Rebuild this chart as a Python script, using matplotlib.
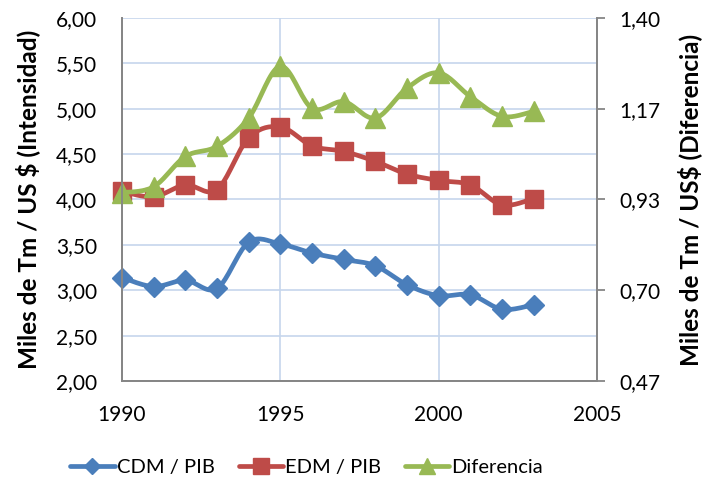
import numpy as np
import matplotlib
matplotlib.use("Agg")
import matplotlib.pyplot as plt
from matplotlib.lines import Line2D

plt.rcParams['font.family'] = ['Lato', 'DejaVu Sans']

years = [1990, 1991, 1992, 1993, 1994, 1995, 1996, 1997, 1998, 1999, 2000, 2001, 2002, 2003]
cdm_pib = [3.14, 3.04, 3.11, 3.02, 3.53, 3.51, 3.41, 3.34, 3.27, 3.06, 2.94, 2.95, 2.79, 2.84]
edm_pib = [4.09, 4.03, 4.16, 4.11, 4.68, 4.80, 4.59, 4.53, 4.42, 4.28, 4.21, 4.16, 3.94, 4.01]
diferencia = [0.951, 0.966, 1.044, 1.070, 1.143, 1.276, 1.168, 1.185, 1.143, 1.220, 1.259, 1.198, 1.147, 1.160]

labels = ['CDM / PIB', 'EDM / PIB', 'Diferencia']
colors = ['#4a7ebb', '#be4b48', '#98b954']
markers = ['D', 's', '^']
msizes = [10, 13, 14]


def smooth(x, y, n=20):
    x = np.asarray(x, float)
    y = np.asarray(y, float)
    px = np.concatenate([[x[0]], x, [x[-1]]])
    py = np.concatenate([[y[0]], y, [y[-1]]])
    xs, ys = [], []
    for i in range(1, len(px) - 2):
        p0 = np.array([px[i - 1], py[i - 1]])
        p1 = np.array([px[i], py[i]])
        p2 = np.array([px[i + 1], py[i + 1]])
        p3 = np.array([px[i + 2], py[i + 2]])
        c1 = p1 + (p2 - p0) / 6.0
        c2 = p2 - (p3 - p1) / 6.0
        t = np.linspace(0, 1, n)[:, None]
        b = ((1 - t) ** 3) * p1 + 3 * ((1 - t) ** 2) * t * c1 + 3 * (1 - t) * t ** 2 * c2 + t ** 3 * p2
        xs.extend(b[:, 0])
        ys.extend(b[:, 1])
    return np.array(xs), np.array(ys)


fig = plt.figure(figsize=(7.05, 4.87), dpi=100)
ax = fig.add_axes([0.173, 0.2177, 0.674, 0.7453])
ax2 = ax.twinx()

grid_c = '#c6d6ec'
spine_c = '#868686'

ax.set_xlim(1990, 2005)
ax.set_ylim(2.0, 6.0)
ax.set_xticks([1990, 1995, 2000, 2005])
ax.set_yticks(np.arange(2.0, 6.01, 0.5))
ax.set_yticklabels([f"{v:.2f}".replace('.', ',') for v in np.arange(2.0, 6.01, 0.5)])
ax.grid(True, color=grid_c, linewidth=1.2)
ax.set_axisbelow(True)

r_lo, r_hi = 0.4667, 1.4
ax2.set_ylim(r_lo, r_hi)
rt = np.linspace(r_lo, r_hi, 5)
ax2.set_yticks(rt)
ax2.set_yticklabels([f"{v:.2f}".replace('.', ',') for v in rt])

for a in (ax, ax2):
    for s in ['top']:
        a.spines[s].set_visible(False)
    for s in ['left', 'right', 'bottom']:
        a.spines[s].set_color(spine_c)
        a.spines[s].set_linewidth(1.3)
    a.tick_params(labelsize=15, colors='black', length=0)
ax.tick_params(axis='y', pad=18)
ax2.tick_params(axis='y', length=6, color=spine_c, width=1.3, pad=10)
ax.tick_params(axis='x', pad=17)

ax.set_ylabel('Miles de Tm / US $ (Intensidad)', fontsize=17.5, fontweight='bold', labelpad=11)
ax2.set_ylabel('Miles de Tm / US$ (Diferencia)', fontsize=17.5, fontweight='bold', labelpad=12)

series = [(ax, cdm_pib), (ax, edm_pib), (ax2, diferencia)]
for (a, vals), c, m, ms in zip(series, colors, markers, msizes):
    sx, sy = smooth(years, vals)
    a.plot(sx, sy, color=c, linewidth=3.4, solid_capstyle='round', clip_on=False)
    a.plot(years, vals, linestyle='none', marker=m, markersize=ms, color=c, clip_on=False)

handles = [Line2D([0], [0], color=c, linewidth=3.4, marker=m, markersize=ms * 0.85, solid_capstyle='round')
           for c, m, ms in zip(colors, markers, msizes)]
fig.legend(handles, labels, loc='center', bbox_to_anchor=(0.435, 0.04), ncol=3, frameon=False,
           fontsize=14.5, handlelength=2.2, handletextpad=0.1, columnspacing=1.2)

fig.savefig('out.png', dpi=100)
